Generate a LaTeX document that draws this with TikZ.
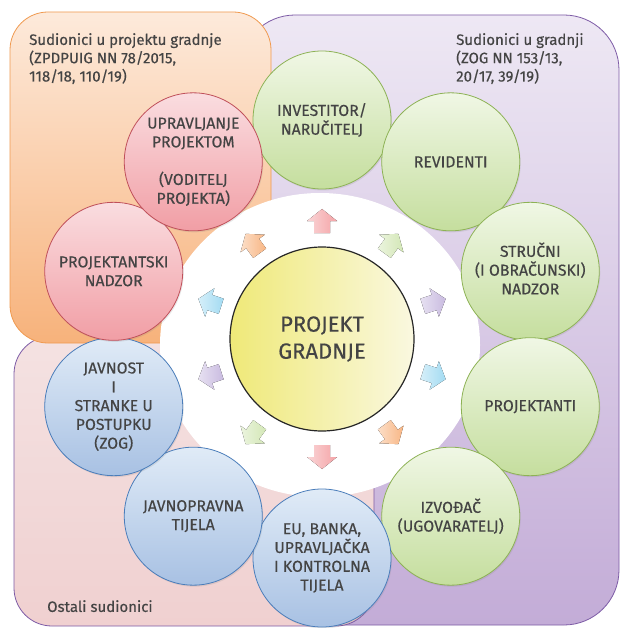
\documentclass[tikz,border=0pt]{standalone}
\usepackage{fontspec}
\setmainfont{Fira Sans}[FakeBold=0.35]
\usetikzlibrary{shadows}
\definecolor{txt}{HTML}{444444}
\definecolor{grnt}{HTML}{F0F7E5}
\definecolor{grnb}{HTML}{C5DE9E}
\definecolor{grnd}{HTML}{8DB255}
\definecolor{pnkt}{HTML}{FADDE0}
\definecolor{pnkb}{HTML}{F19EA5}
\definecolor{pnkd}{HTML}{C0505A}
\definecolor{blut}{HTML}{E0EBF7}
\definecolor{blub}{HTML}{A8C1E3}
\definecolor{blud}{HTML}{4A7DBA}
\definecolor{ylwl}{HTML}{EFE978}
\definecolor{ylwr}{HTML}{FAF8E0}
\definecolor{orgt}{HTML}{FDEADB}
\definecolor{orgb}{HTML}{F7B27B}
\definecolor{orgd}{HTML}{F09A50}
\definecolor{purt}{HTML}{EEE8F4}
\definecolor{purb}{HTML}{C3ACD7}
\definecolor{purd}{HTML}{7D5BA6}
\definecolor{rost}{HTML}{F4E2E2}
\definecolor{rosb}{HTML}{F0D0D0}
\definecolor{apink}{HTML}{F4A3A6}
\definecolor{agreen}{HTML}{D3E7B6}
\definecolor{apurple}{HTML}{C9BBE0}
\definecolor{ablue}{HTML}{A3DBF2}
\definecolor{aorange}{HTML}{F8B684}
\begin{document}
\begin{tikzpicture}[x=1pt,y=-1pt,
  ball/.style={circle, minimum size=138pt, inner sep=0pt, line width=0.8pt,
    align=center, text=txt, font=\fontsize{15.8}{18.8}\selectfont,
    drop shadow={opacity=0.18, shadow xshift=1pt, shadow yshift=-1.5pt}},
  greenball/.style={ball, draw=grnd, top color=grnt, bottom color=grnb},
  pinkball/.style={ball, draw=pnkd, top color=pnkt, bottom color=pnkb},
  blueball/.style={ball, draw=blud, top color=blut, bottom color=blub},
  boxlabel/.style={anchor=north west, inner sep=0pt, align=left, text=txt,
    font=\fontsize{15}{18.3}\selectfont}
]
\useasboundingbox (0,0) rectangle (621,628);
\fill[white] (0,0) rectangle (621,628);

% background regions
\draw[purd, line width=0.8pt, rounded corners=55pt, top color=purt, bottom color=purb]
  (240,15) rectangle (619,625);
\draw[purd, line width=0.8pt, rounded corners=38pt, top color=rost, bottom color=rosb]
  (14,336) rectangle (374,626);
\draw[orgd, line width=0.8pt, rounded corners=38pt, top color=orgt, bottom color=orgb]
  (10,12) rectangle (271,343);

\node[boxlabel] (lbla) at (29,33) {Sudionici u projektu gradnje\\(ZPDPUIG NN 78/2015,\\118/18, 110/19)};
\node[boxlabel] (lblb) at (456,33) {Sudionici u gradnji\\(ZOG NN 153/13,\\20/17, 39/19)};
\node[boxlabel] (lblc) at (47,600) {Ostali sudionici};

% white ring
\fill[white] (320,345) ellipse [x radius=160pt, y radius=152pt];

\coordinate (c) at (322,339);

% small arrows
\foreach \a/\col in {90/apink, 54/agreen, 18/apurple, -18/ablue, -54/aorange,
                     -90/apink, -126/agreen, -162/apurple, 162/ablue, 126/aorange}{
  \begin{scope}[shift={(c)}, rotate=\a]
    \fill[left color=\col!45!white, right color=\col]
      (106pt,-8pt) -- (118pt,-8pt) -- (118pt,-15pt) -- (130pt,0pt) --
      (118pt,15pt) -- (118pt,8pt) -- (106pt,8pt) -- cycle;
  \end{scope}
}

% centre
\node[circle, minimum size=184pt, inner sep=0pt, draw=black!85, line width=1.2pt,
  left color=ylwl, right color=ylwr, text=txt, align=center,
  font=\fontsize{22}{27}\selectfont] (centre) at (c) {PROJEKT\\GRADNJE};

% outer circles
\node[greenball] (inv) at ([shift={(90:219pt)}]c) {INVESTITOR/\\NARUČITELJ};
\node[greenball] (rev) at ([shift={(54:219pt)}]c) {REVIDENTI};
\node[greenball] (str) at ([shift={(18:219pt)}]c) {\\[-10pt]STRUČNI\\(I OBRAČUNSKI)\\NADZOR};
\node[greenball] (prj) at ([shift={(-18:219pt)}]c) {PROJEKTANTI};
\node[greenball] (izv) at ([shift={(-54:219pt)}]c) {IZVOĐAČ\\(UGOVARATELJ)};
\node[blueball] (eu) at ([shift={(-90:219pt)}]c) {EU, BANKA,\\UPRAVLJAČKA\\I KONTROLNA\\TIJELA};
\node[blueball] (jpt) at ([shift={(-126:219pt)}]c) {JAVNOPRAVNA\\TIJELA};
\node[blueball] (jav) at ([shift={(-162:219pt)}]c) {JAVNOST\\I\\STRANKE U\\POSTUPKU\\(ZOG)};
\node[pinkball] (pnz) at ([shift={(162:219pt)}]c) {PROJEKTANTSKI\\NADZOR};
\node[pinkball] (upr) at ([shift={(126:219pt)}]c) {UPRAVLJANJE\\PROJEKTOM\\ \\(VODITELJ\\PROJEKTA)};
\end{tikzpicture}
\end{document}
